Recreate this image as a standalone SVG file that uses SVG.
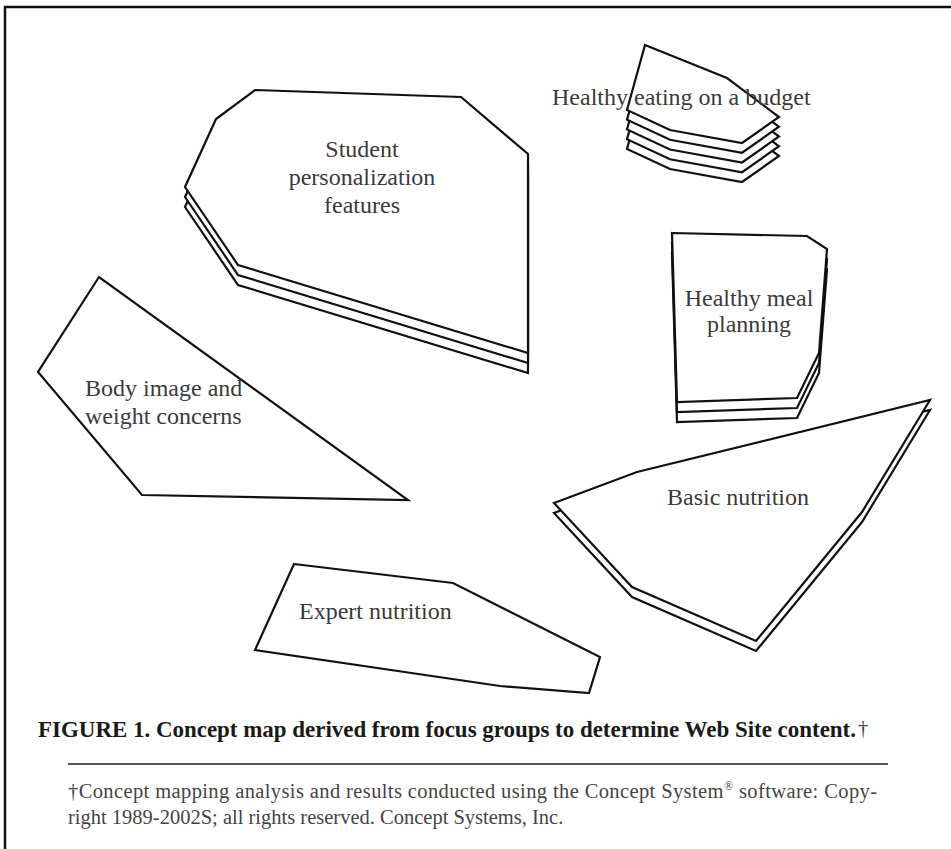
<svg xmlns="http://www.w3.org/2000/svg" width="951" height="849" viewBox="0 0 951 849">
<style>
.shape{fill:#fff;stroke:#111;stroke-width:2.2;stroke-linejoin:miter}
.lbl{font-family:"Liberation Serif","Times New Roman",serif;font-size:24px;fill:#3a3a3a}
.cap{font-family:"Liberation Serif","Times New Roman",serif;font-size:23px;font-weight:bold;fill:#1a1a1a}
.note{font-family:"Liberation Serif","Times New Roman",serif;font-size:20.5px;fill:#444}
</style>
<defs>
<polygon id="pStudent" points="255,90 461,97 528,154 528,353 238,265 185,187 216,119"/>
<polygon id="pEating" points="645,45 727,78 779,117 742,143 670,130 627,110"/>
<polygon id="pMeal" points="672,233 807,236 827,249 819,353 797,398 677,402"/>
<polygon id="pBasic" points="554,503 637,472 930,400 862,512 756,641 632,587"/>
</defs>
<rect width="951" height="849" fill="#fff"/>
<path d="M5,849 V7 H951" fill="none" stroke="#111" stroke-width="2.5"/>
<g id="connectors"/>
<g id="student">
<use href="#pStudent" class="shape" transform="translate(0,20)"/>
<use href="#pStudent" class="shape" transform="translate(0,10)"/>
<use href="#pStudent" class="shape"/>
<text class="lbl" text-anchor="middle"><tspan x="362" y="157">Student</tspan><tspan x="362" y="185">personalization</tspan><tspan x="362" y="213">features</tspan></text>
</g>
<g id="eating">
<use href="#pEating" class="shape" transform="translate(0,39)"/>
<use href="#pEating" class="shape" transform="translate(0,29.25)"/>
<use href="#pEating" class="shape" transform="translate(0,19.5)"/>
<use href="#pEating" class="shape" transform="translate(0,9.75)"/>
<use href="#pEating" class="shape"/>
<text class="lbl" x="552" y="105">Healthy eating on a budget</text>
</g>
<g id="meal">
<use href="#pMeal" class="shape" transform="translate(0,20)"/>
<use href="#pMeal" class="shape" transform="translate(0,10)"/>
<use href="#pMeal" class="shape"/>
<text class="lbl" text-anchor="middle"><tspan x="749" y="306">Healthy meal</tspan><tspan x="749" y="332">planning</tspan></text>
</g>
<g id="body">
<polygon class="shape" points="99,277 38,372 142,495 408,500"/>
<text class="lbl"><tspan x="85" y="396">Body image and</tspan><tspan x="85" y="424">weight concerns</tspan></text>
</g>
<g id="basic">
<use href="#pBasic" class="shape" transform="translate(0,10)"/>
<use href="#pBasic" class="shape"/>
<text class="lbl" x="738" y="505" text-anchor="middle">Basic nutrition</text>
</g>
<g id="expert">
<polygon class="shape" points="294,564 453,583 600,657 589,693 500,686 255,650"/>
<text class="lbl" x="299" y="619">Expert nutrition</text>
</g>
<g id="caption">
<text class="cap" x="38" y="737" textLength="818" lengthAdjust="spacing">FIGURE 1. Concept map derived from focus groups to determine Web Site content.</text>
<text class="note" x="858" y="735" font-size="17">†</text>
<line x1="68" y1="764" x2="888" y2="764" stroke="#555" stroke-width="2"/>
<text class="note" x="68" y="798" textLength="809" lengthAdjust="spacing">†Concept mapping analysis and results conducted using the Concept System<tspan font-size="12" dy="-8">®</tspan><tspan dy="8"> software: Copy-</tspan></text>
<text class="note" x="68" y="824">right 1989-2002S; all rights reserved. Concept Systems, Inc.</text>
</g>
</svg>
